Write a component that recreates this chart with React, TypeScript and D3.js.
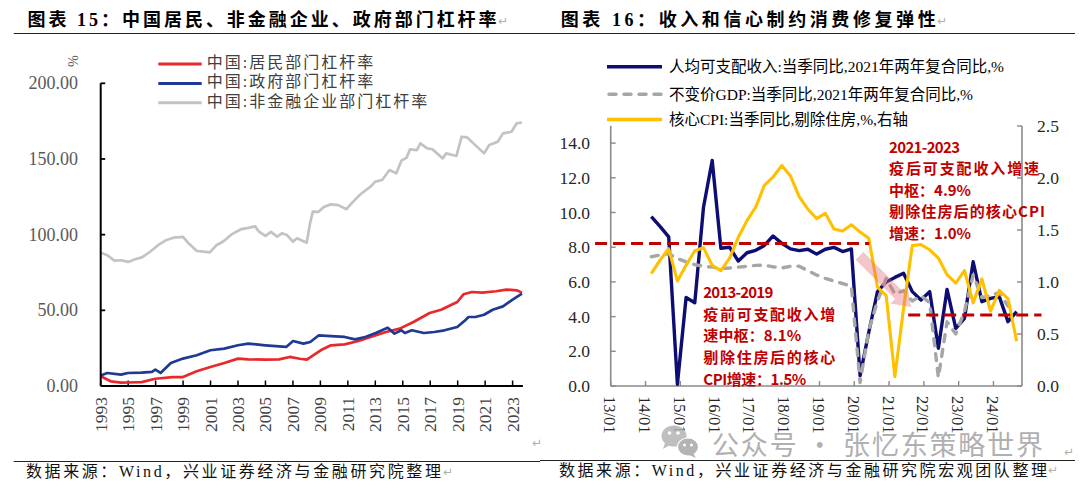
import React from "react";
import * as d3 from "d3";

// ---------------- Left chart (图表15) data: [year, %] ----------------
const householdLeverage: [number, number][] = [
  [1993.0, 6.4], [1993.73, 3.1], [1994.48, 2.2], [1995.0, 2.3], [1995.98, 2.6], [1996.98, 4.8],
  [1998.24, 5.9], [1998.99, 5.9], [1999.99, 9.7], [2000.99, 12.6], [2002.0, 15.2], [2003.0, 18.1],
  [2003.75, 17.6], [2005.0, 17.4], [2006.0, 17.6], [2006.76, 19.2], [2007.5, 18.0], [2008.01, 17.4],
  [2009.02, 23.6], [2009.77, 26.9], [2010.77, 27.5], [2011.77, 29.7], [2012.77, 32.8], [2013.78, 35.7],
  [2014.78, 37.9], [2015.78, 42.3], [2016.96, 48.2], [2017.79, 50.4], [2018.97, 55.5], [2019.42, 60.6],
  [2020.04, 62.1], [2020.79, 61.7], [2021.8, 62.6], [2022.55, 63.7], [2023.3, 63.2], [2023.68, 61.7],
];
const governmentLeverage: [number, number][] = [
  [1993.0, 7.0], [1993.48, 8.6], [1994.48, 7.5], [1994.98, 8.6], [1995.98, 8.8], [1996.73, 9.3],
  [1996.98, 10.8], [1997.36, 8.6], [1998.11, 15.2], [1998.99, 18.1], [1999.99, 20.3], [2000.99, 23.6],
  [2002.0, 24.7], [2003.0, 26.9], [2003.75, 28.0], [2005.0, 26.9], [2006.0, 26.2], [2006.51, 25.8],
  [2007.01, 29.7], [2007.76, 28.0], [2008.26, 29.1], [2008.89, 33.5], [2009.77, 33.0], [2010.77, 32.4],
  [2011.52, 30.8], [2012.27, 32.4], [2013.03, 35.0], [2013.9, 38.5], [2014.4, 34.6], [2014.9, 36.8],
  [2015.16, 35.0], [2015.66, 36.8], [2016.54, 35.0], [2017.29, 35.7], [2018.04, 36.8], [2018.97, 39.0],
  [2019.55, 43.5], [2019.79, 45.6], [2020.29, 45.6], [2020.92, 47.1], [2021.55, 50.4], [2022.3, 52.6],
  [2022.92, 56.6], [2023.68, 61.0],
];
const nfcLeverage: [number, number][] = [
  [1993.0, 88.1], [1993.45, 86.6], [1994.0, 82.8], [1994.5, 83.1], [1995.0, 82.0], [1995.5, 83.7],
  [1996.0, 85.0], [1996.6, 88.7], [1997.2, 93.2], [1997.8, 96.5], [1998.3, 98.0], [1999.0, 98.5],
  [1999.4, 94.3], [2000.0, 89.2], [2000.5, 88.8], [2000.95, 88.3], [2001.45, 93.2], [2001.95, 95.6],
  [2002.5, 100.0], [2003.25, 103.7], [2003.75, 104.5], [2004.25, 105.5], [2004.5, 102.2], [2005.0, 99.2],
  [2005.4, 101.8], [2005.85, 98.7], [2006.2, 100.9], [2006.55, 99.8], [2007.0, 95.4], [2007.3, 97.6],
  [2008.0, 94.7], [2008.25, 107.5], [2008.45, 115.2], [2008.85, 115.0], [2009.25, 118.3], [2009.75, 120.0],
  [2010.3, 119.5], [2010.9, 116.8], [2011.3, 121.0], [2011.9, 126.5], [2012.65, 131.7], [2013.0, 135.0],
  [2013.5, 136.1], [2014.03, 142.7], [2014.53, 140.5], [2014.9, 148.9], [2015.28, 150.9], [2015.53, 156.4],
  [2016.03, 155.9], [2016.28, 160.3], [2016.78, 157.0], [2017.16, 156.4], [2017.91, 150.4], [2018.16, 153.7],
  [2018.91, 152.0], [2019.29, 164.7], [2019.67, 164.3], [2020.54, 157.0], [2020.92, 153.7], [2021.3, 159.2],
  [2021.92, 161.4], [2022.3, 166.9], [2022.92, 168.0], [2023.3, 173.6], [2023.68, 174.0],
];
const leftYTicks = [0, 50, 100, 150, 200];
const leftXTicks = [1993, 1995, 1997, 1999, 2001, 2003, 2005, 2007, 2009, 2011, 2013, 2015, 2017, 2019, 2021, 2023];
const leftLegend = ["中国:居民部门杠杆率", "中国:政府部门杠杆率", "中国:非金融企业部门杠杆率"];

// ---------------- Right chart (图表16) data ----------------
const quarters = [
  "2014-03", "2014-06", "2014-09", "2014-12", "2015-03", "2015-06", "2015-09", "2015-12",
  "2016-03", "2016-06", "2016-09", "2016-12", "2017-03", "2017-06", "2017-09", "2017-12",
  "2018-03", "2018-06", "2018-09", "2018-12", "2019-03", "2019-06", "2019-09", "2019-12",
  "2020-03", "2020-06", "2020-09", "2020-12", "2021-03", "2021-06", "2021-09", "2021-12",
  "2022-03", "2022-06", "2022-09", "2022-12", "2023-03", "2023-06", "2023-09", "2023-12",
  "2024-03", "2024-06", "2024-09",
];
const incomeGrowth = [
  9.76, 9.2, 8.6, 0.1, 5.1, 4.8, 10.3, 13.0, 7.94, 8.0, 7.2, 7.68, 7.82, 8.1, 8.65, 8.22,
  7.9, 7.8, 7.88, 7.6, 7.88, 7.99, 7.75, 7.9, 0.6, 3.1, 5.44, 6.0, 6.26, 6.5, 5.44, 4.96,
  5.44, 2.17, 5.57, 3.32, 3.9, 7.16, 4.86, 5.05, 5.15, 3.71, 4.28,
];
const gdpGrowth = [
  7.45, 7.55, 7.62, 7.35, 7.15, 7.0, 6.9, 6.85, 6.78, 6.8, 6.85, 6.9, 6.95, 6.97, 6.87, 6.8,
  6.9, 6.9, 6.65, 6.4, 6.2, 6.05, 5.9, 5.75, 0.2, 3.2, 4.9, 6.2, 5.3, 5.5, 4.9, 5.2,
  4.8, 0.5, 3.7, 3.0, 4.3, 6.4, 5.1, 5.2, 5.4, 4.6, 4.65,
];
const coreCpiExHousing = [
  1.08, 1.21, 1.32, 1.01, 1.16, 1.3, 1.33, 1.16, 1.11, 1.23, 1.43, 1.59, 1.72, 1.93, 2.01, 2.12,
  2.02, 1.82, 1.7, 1.61, 1.66, 1.51, 1.49, 1.55, 1.48, 1.42, 0.95, 0.87, 0.09, 0.75, 1.35, 1.36,
  1.31, 1.23, 1.07, 0.99, 1.11, 0.8, 1.03, 0.72, 0.92, 0.84, 0.43,
];
const rightXTicks = [2013, 2014, 2015, 2016, 2017, 2018, 2019, 2020, 2021, 2022, 2023, 2024];
const rightLeftTicks = [0, 2, 4, 6, 8, 10, 12, 14];
const rightRightTicks = [0, 0.5, 1, 1.5, 2, 2.5];
const rightLegend = [
  "人均可支配收入:当季同比,2021年两年复合同比,%",
  "不变价GDP:当季同比,2021年两年复合同比,%",
  "核心CPI:当季同比,剔除住房,%,右轴",
];
// annotation guide lines: [startYear, endYear, value on left axis]
const preCovidCenter = [2012.55, 2020.43, 8.22];
const postCovidCenter = [2021.55, 2025.38, 4.09];
const arrowFrom = [2020.15, 7.5];
const arrowTo = [2021.63, 4.55];
const note1 = ["2013-2019", "疫前可支配收入增", "速中枢：8.1%", "剔除住房后的核心", "CPI增速：1.5%"];
const note1Widths = [70, 132, 98, 132, 103];
const note1Anchor = [2015.66, 5.44];
const note2 = ["2021-2023", "疫后可支配收入增速", "中枢：4.9%", "剔除住房后的核心CPI", "增速：1.0%"];
const note2Widths = [71, 150, 82, 156, 82];
const note2Anchor = [2021.0, 13.83];

const titleLeft = "图表 15：中国居民、非金融企业、政府部门杠杆率";
const titleRight = "图表 16：收入和信心制约消费修复弹性";
const sourceLeft = "数据来源：Wind，兴业证券经济与金融研究院整理";
const sourceRight = "数据来源：Wind，兴业证券经济与金融研究院宏观团队整理";
const watermark = "公众号 · 张忆东策略世界";

const SERIF = "'Liberation Serif', 'Times New Roman', 'Noto Sans CJK SC', serif";
const CJK = "'Noto Sans CJK SC', sans-serif";

const qTime = (s: string) => {
  const [y, m] = s.split("-").map(Number);
  return y + (m - 1) / 12;
};

export default function App() {
  // left scales
  const xL = d3.scaleLinear().domain([1993, 2023.75]).range([100.7, 522.9]);
  const yL = d3.scaleLinear().domain([0, 200]).range([386, 83.3]);
  const lineL = d3
    .line<[number, number]>()
    .x((d) => xL(d[0]))
    .y((d) => yL(d[1]));

  // right scales
  const xR = d3.scaleLinear().domain([2013, 2024.82]).range([610.7, 1022]);
  const yRL = d3.scaleLinear().domain([0, 15]).range([386, 125.75]);
  const yRR = d3.scaleLinear().domain([0, 2.5]).range([386, 126]);
  const qt = quarters.map(qTime);
  const lineRL = d3
    .line<number>()
    .x((_, i) => xR(qt[i]))
    .y((d) => yRL(d));
  const lineRR = d3
    .line<number>()
    .x((_, i) => xR(qt[i]))
    .y((d) => yRR(d));

  // arrow polygon
  const ax0 = xR(arrowFrom[0]), ay0 = yRL(arrowFrom[1]);
  const ax1 = xR(arrowTo[0]), ay1 = yRL(arrowTo[1]);
  const len = Math.hypot(ax1 - ax0, ay1 - ay0);
  const ux = (ax1 - ax0) / len, uy = (ay1 - ay0) / len;
  const px = -uy, py = ux;
  const headLen = 17, headW = 12, shaftW = 5.5;
  const bx = ax1 - ux * headLen, by = ay1 - uy * headLen;
  const arrowPts = [
    [ax0 + px * shaftW, ay0 + py * shaftW],
    [bx + px * shaftW, by + py * shaftW],
    [bx + px * headW, by + py * headW],
    [ax1, ay1],
    [bx - px * headW, by - py * headW],
    [bx - px * shaftW, by - py * shaftW],
    [ax0 - px * shaftW, ay0 - py * shaftW],
  ]
    .map((p) => p.join(","))
    .join(" ");

  const leftColors = ["#E8292C", "#1E3A94", "#C3C3C3"];
  const leftSeries = [householdLeverage, governmentLeverage, nfcLeverage];

  return (
    <svg
      width={1080}
      height={489}
      style={{ position: "absolute", left: 0, top: 0, background: "#fff" }}
    >
      <rect x={0} y={0} width={1080} height={489} fill="#fff" />

      {/* ===== Titles and rules ===== */}
      <text
        x={27.6}
        y={19.5}
        dominantBaseline="central"
        fontFamily={SERIF}
        fontWeight="bold"
        fontSize={18}
        textLength={469}
        lengthAdjust="spacing"
        fill="#000"
      >
        {titleLeft}
      </text>
      <text x={498} y={21} dominantBaseline="central" fontFamily="DejaVu Sans" fontSize={12} fill="#b0b0b0">↵</text>
      <text
        x={560.7}
        y={19.5}
        dominantBaseline="central"
        fontFamily={SERIF}
        fontWeight="bold"
        fontSize={18}
        textLength={375}
        lengthAdjust="spacing"
        fill="#000"
      >
        {titleRight}
      </text>
      <text x={937} y={21} dominantBaseline="central" fontFamily="DejaVu Sans" fontSize={12} fill="#b0b0b0">↵</text>
      <line x1={13.8} x2={540} y1={33.5} y2={33.5} stroke="#222" strokeWidth={1.2} />
      <line x1={540} x2={1075} y1={33.5} y2={33.5} stroke="#222" strokeWidth={1.2} />
      <line x1={13.8} x2={540} y1={461.5} y2={461.5} stroke="#222" strokeWidth={1.2} />
      <line x1={540} x2={1075} y1={460.5} y2={460.5} stroke="#222" strokeWidth={1.2} />
      <text x={25.9} y={471.7} dominantBaseline="central" fontFamily={SERIF} fontSize={16} textLength={415} lengthAdjust="spacing" fill="#111">
        {sourceLeft}
      </text>
      <text x={443} y={472} dominantBaseline="central" fontFamily="DejaVu Sans" fontSize={12} fill="#b0b0b0">↵</text>
      <text x={559} y={470} dominantBaseline="central" fontFamily={SERIF} fontSize={16} textLength={488} lengthAdjust="spacing" fill="#111">
        {sourceRight}
      </text>
      <text x={1048} y={470} dominantBaseline="central" fontFamily="DejaVu Sans" fontSize={12} fill="#b0b0b0">↵</text>
      <text x={532} y={443} dominantBaseline="central" fontFamily="DejaVu Sans" fontSize={12} fill="#b0b0b0">↵</text>
      <text x={1064} y={452} dominantBaseline="central" fontFamily="DejaVu Sans" fontSize={12} fill="#b0b0b0">↵</text>

      {/* ===== Left chart ===== */}
      <text x={72} y={61} transform="rotate(90 72 61)" textAnchor="middle" dominantBaseline="central" fontFamily={SERIF} fontSize={14} fill="#595959">
        %
      </text>
      {leftYTicks.map((v) => (
        <g key={"ly" + v}>
          <text x={78} y={yL(v)} textAnchor="end" dominantBaseline="central" fontFamily={SERIF} fontSize={18} fill="#595959">
            {v.toFixed(2)}
          </text>
          <line x1={xL(1993)} x2={xL(1993) + 4.5} y1={yL(v)} y2={yL(v)} stroke="#000" strokeWidth={1.8} />
        </g>
      ))}
      {leftXTicks.map((t) => (
        <g key={"lx" + t}>
          <line x1={xL(t)} x2={xL(t)} y1={yL(0)} y2={yL(0) - 5.5} stroke="#000" strokeWidth={1.5} />
          <text
            transform={`translate(${xL(t)},397) rotate(-90)`}
            textAnchor="end"
            dominantBaseline="central"
            fontFamily={SERIF}
            fontSize={17.5}
            fill="#404040"
          >
            {t}
          </text>
        </g>
      ))}
      {leftSeries.map((s, i) => (
        <path
          key={"ls" + i}
          d={lineL(s) || ""}
          fill="none"
          stroke={leftColors[i]}
          strokeWidth={2.7}
          strokeLinejoin="round"
        />
      ))}
      <line x1={xL(1993)} x2={xL(1993)} y1={yL(200)} y2={yL(0)} stroke="#000" strokeWidth={2} />
      <line x1={xL(1993)} x2={xL(2023.75)} y1={yL(0)} y2={yL(0)} stroke="#000" strokeWidth={2} />
      {leftLegend.map((label, i) => (
        <g key={"ll" + i}>
          <line x1={158.3} x2={201.7} y1={64 + i * 19.4} y2={64 + i * 19.4} stroke={leftColors[i]} strokeWidth={3} />
          <text
            x={206.7}
            y={62.5 + i * 19.4}
            dominantBaseline="central"
            fontFamily={SERIF}
            fontSize={16}
            letterSpacing={2}
            fill="#404040"
          >
            {label}
          </text>
        </g>
      ))}

      {/* ===== Right chart ===== */}
      {rightLegend.map((label, i) => {
        const y = [66.7, 94.3, 119.5][i];
        return (
          <g key={"rl" + i}>
            {i === 0 && <line x1={607} x2={662} y1={y} y2={y} stroke="#0D0D73" strokeWidth={3.5} />}
            {i === 1 && (
              <line x1={609} x2={662} y1={y} y2={y} stroke="#A6A6A6" strokeWidth={3.5} strokeDasharray="7 8" strokeLinecap="round" />
            )}
            {i === 2 && <line x1={607} x2={662} y1={y} y2={y} stroke="#FFC000" strokeWidth={3.5} />}
            <text x={669} y={y} dominantBaseline="central" fontFamily={SERIF} fontSize={15.5} fill="#000">
              {label}
            </text>
          </g>
        );
      })}

      {/* axes */}
      <line x1={xR(2013)} x2={xR(2013)} y1={yRL(15)} y2={yRL(0)} stroke="#8A8A8A" strokeWidth={1.6} />
      <line x1={xR(2024.82)} x2={xR(2024.82)} y1={yRR(2.5)} y2={yRR(0)} stroke="#8A8A8A" strokeWidth={1.6} />
      <line x1={xR(2013)} x2={xR(2024.82)} y1={yRL(0)} y2={yRL(0)} stroke="#8A8A8A" strokeWidth={1.6} />
      {rightLeftTicks.map((v) => (
        <g key={"rly" + v}>
          <line x1={xR(2013)} x2={xR(2013) + 5} y1={yRL(v)} y2={yRL(v)} stroke="#8A8A8A" strokeWidth={1.4} />
          <text x={590} y={yRL(v)} textAnchor="end" dominantBaseline="central" fontFamily={SERIF} fontSize={17.5} fill="#262626">
            {v.toFixed(1)}
          </text>
        </g>
      ))}
      {rightRightTicks.map((v) => (
        <g key={"rry" + v}>
          <line x1={xR(2024.82)} x2={xR(2024.82) - 5} y1={yRR(v)} y2={yRR(v)} stroke="#8A8A8A" strokeWidth={1.4} />
          <text x={1037} y={yRR(v)} textAnchor="start" dominantBaseline="central" fontFamily={SERIF} fontSize={17.5} fill="#262626">
            {v.toFixed(1)}
          </text>
        </g>
      ))}
      {rightXTicks.map((t) => (
        <g key={"rx" + t}>
          <line x1={xR(t)} x2={xR(t)} y1={yRL(0)} y2={yRL(0) - 5} stroke="#8A8A8A" strokeWidth={1.4} />
          <text
            transform={`translate(${xR(t) - 1},396) rotate(90)`}
            textAnchor="start"
            dominantBaseline="central"
            fontFamily={SERIF}
            fontSize={16.5}
            fill="#262626"
          >
            {`${String(t).slice(2)}/01`}
          </text>
        </g>
      ))}

      {/* series */}
      <path d={lineRL(incomeGrowth) || ""} fill="none" stroke="#0D0D73" strokeWidth={3.4} strokeLinejoin="round" />
      <path
        d={lineRL(gdpGrowth) || ""}
        fill="none"
        stroke="#A6A6A6"
        strokeWidth={3.4}
        strokeDasharray="7 8"
        strokeLinecap="round"
        strokeLinejoin="round"
      />
      <path d={lineRR(coreCpiExHousing) || ""} fill="none" stroke="#FFC000" strokeWidth={3.1} strokeLinejoin="round" />

      {/* annotations */}
      <line
        x1={xR(preCovidCenter[0])}
        x2={xR(preCovidCenter[1])}
        y1={yRL(preCovidCenter[2])}
        y2={yRL(preCovidCenter[2])}
        stroke="#C00000"
        strokeWidth={3}
        strokeDasharray="12 6"
      />
      <line
        x1={xR(postCovidCenter[0])}
        x2={xR(postCovidCenter[1])}
        y1={yRL(postCovidCenter[2])}
        y2={yRL(postCovidCenter[2])}
        stroke="#C00000"
        strokeWidth={3}
        strokeDasharray="12 6"
      />
      <polygon points={arrowPts} fill="rgb(222,105,115)" opacity={0.38} />
      {note1.map((s, i) => (
        <text
          key={"n1" + i}
          x={xR(note1Anchor[0])}
          y={yRL(note1Anchor[1]) + i * 21.6}
          dominantBaseline="central"
          fontFamily={CJK}
          fontWeight="bold"
          fontSize={15}
          textLength={note1Widths[i]}
          lengthAdjust="spacing"
          fill="#C00000"
        >
          {s}
        </text>
      ))}
      {note2.map((s, i) => (
        <text
          key={"n2" + i}
          x={xR(note2Anchor[0])}
          y={yRL(note2Anchor[1]) + i * 21.6}
          dominantBaseline="central"
          fontFamily={CJK}
          fontWeight="bold"
          fontSize={15}
          textLength={note2Widths[i]}
          lengthAdjust="spacing"
          fill="#C00000"
        >
          {s}
        </text>
      ))}

      {/* watermark */}
      <g opacity={0.85}>
        <ellipse cx={674} cy={436} rx={12.5} ry={10.5} fill="#b5b5b5" />
        <path d="M665,443 L663,449 L670,445 Z" fill="#b5b5b5" />
        <circle cx={669.5} cy={433} r={1.8} fill="#fff" />
        <circle cx={678} cy={433} r={1.8} fill="#fff" />
        <ellipse cx={688} cy={447} rx={10.5} ry={9} fill="#a8a8a8" stroke="#fff" strokeWidth={1.2} />
        <path d="M693,453 L696,458 L689,455 Z" fill="#a8a8a8" />
        <circle cx={684.5} cy={445} r={1.5} fill="#fff" />
        <circle cx={691.5} cy={445} r={1.5} fill="#fff" />
        <text x={712} y={443} dominantBaseline="central" fontFamily={CJK} fontSize={27} textLength={331} lengthAdjust="spacing" fill="#a3a3a3">
          {watermark}
        </text>
      </g>
    </svg>
  );
}
